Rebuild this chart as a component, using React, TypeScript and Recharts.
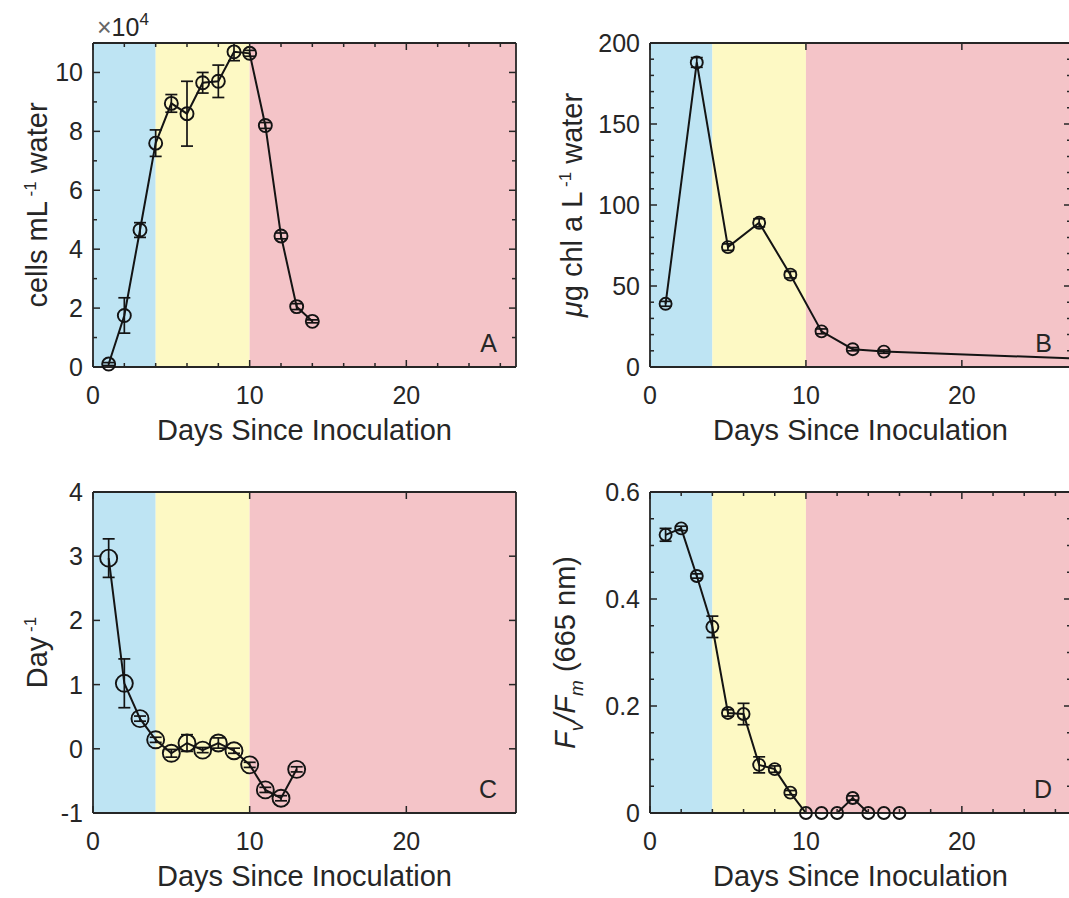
import React from "react";
import { ComposedChart, Line, XAxis, YAxis, ReferenceArea, ErrorBar } from "recharts";

const INK = "#262626";
const LINE = "#141414";
const FONT = "'Liberation Sans', Arial, Helvetica, sans-serif";

// fases del cultivo (días)
const PHASE_STARTS = [0, 4, 10];
const PHASE_ENDS = [4, 10, 27];
const PHASE_COLORS = ["#bee4f3", "#fdf9c4", "#f4c4c8"];

const X_MAJOR = [0, 10, 20];
const X_MINOR_EVEN = [2, 4, 6, 8, 12, 14, 16, 18, 22, 24, 26];

// A: células (x10^4 mL-1)
const DAYS_A = [1, 2, 3, 4, 5, 6, 7, 8, 9, 10, 11, 12, 13, 14];
const CELLS_A = [0.1, 1.75, 4.65, 7.6, 8.95, 8.6, 9.65, 9.7, 10.7, 10.65, 8.2, 4.45, 2.05, 1.55];
const CELLS_ERR_A = [0.05, 0.6, 0.25, 0.45, 0.3, 1.1, 0.35, 0.55, 0.3, 0.1, 0.1, 0.1, 0.1, 0.05];
const A_TICKS = [0, 2, 4, 6, 8, 10];
const A_MINOR = [1, 3, 5, 7, 9, 11];

// B: clorofila
const DAYS_B = [1, 3, 5, 7, 9, 11, 13, 15, 28];
const CHL_B = [39, 188, 74, 89, 57, 22, 11, 9.5, 5];
const CHL_ERR_B = [1.5, 3, 2, 2.5, 2, 1.5, 1, 1, 0];
const B_TICKS = [0, 50, 100, 150, 200];
const B_MINOR = [10, 20, 30, 40, 60, 70, 80, 90, 110, 120, 130, 140, 160, 170, 180, 190];

// C: tasa de crecimiento (día-1)
const DAYS_C = [1, 2, 3, 4, 5, 6, 7, 8, 9, 10, 11, 12, 13];
const RATE_C = [2.97, 1.02, 0.47, 0.14, -0.07, 0.09, -0.02, 0.09, -0.03, -0.25, -0.64, -0.77, -0.32];
const RATE_ERR_C = [0.3, 0.38, 0.04, 0.04, 0.06, 0.13, 0.04, 0.08, 0.04, 0.04, 0.04, 0.04, 0.04];
const C_TICKS = [-1, 0, 1, 2, 3, 4];

// D: Fv/Fm
const DAYS_D = [1, 2, 3, 4, 5, 6, 7, 8, 9, 10, 11, 12, 13, 14, 15, 16];
const FVFM_D = [0.52, 0.532, 0.443, 0.348, 0.187, 0.185, 0.09, 0.082, 0.038, 0, 0, 0, 0.028, 0, 0, 0];
const FVFM_ERR_D = [0.012, 0.004, 0.004, 0.02, 0.006, 0.02, 0.015, 0.006, 0.004, 0, 0, 0, 0.004, 0, 0, 0];
const D_TICKS = [0, 0.2, 0.4, 0.6];
const D_MINOR = [0.05, 0.1, 0.15, 0.25, 0.3, 0.35, 0.45, 0.5, 0.55];

const TICK_FONT = 25;
const LABEL_FONT = 29;
const SUP = 17;

const toRows = (days: number[], vals: number[], errs: number[]) =>
    days.map((d, i) => ({ day: d, value: vals[i], err: errs[i] }));

const makeXTick = (showLabel: boolean, side: "bottom" | "top") => (props: any) => {
    const { x, y, payload } = props;
    const v = payload.value;
    const major = X_MAJOR.includes(v);
    const len = major ? 7 : 4;
    const dir = side === "bottom" ? -1 : 1;
    return (
        <g>
            <line x1={x} x2={x} y1={y} y2={y + dir * len} stroke={INK} strokeWidth={1.5} />
            {showLabel && major ? (
                <text x={x} y={y + 37} textAnchor="middle" fontSize={TICK_FONT} fontFamily={FONT} fill={INK}>
                    {v}
                </text>
            ) : null}
        </g>
    );
};

const makeYTick = (majors: number[], showLabel: boolean, side: "left" | "right") => (props: any) => {
    const { x, y, payload } = props;
    const v = payload.value;
    const major = majors.includes(v);
    const len = major ? 7 : 4;
    const dir = side === "left" ? 1 : -1;
    return (
        <g>
            <line x1={x} x2={x + dir * len} y1={y} y2={y} stroke={INK} strokeWidth={1.5} />
            {showLabel && major ? (
                <text x={x - 10} y={y + 9} textAnchor="end" fontSize={TICK_FONT} fontFamily={FONT} fill={INK}>
                    {v}
                </text>
            ) : null}
        </g>
    );
};

const yLabelA = (
    <>
        cells mL<tspan dy={-11} fontSize={SUP}> -1</tspan>
        <tspan dy={11}> water</tspan>
    </>
);
const yLabelB = (
    <>
        <tspan fontStyle="italic">μ</tspan>g chl a L<tspan dy={-11} fontSize={SUP}> -1</tspan>
        <tspan dy={11}> water</tspan>
    </>
);
const yLabelC = (
    <>
        Day<tspan dy={-11} fontSize={SUP}> -1</tspan>
    </>
);
const yLabelD = (
    <>
        <tspan fontStyle="italic">F</tspan>
        <tspan dy={8} fontSize={19} fontStyle="italic">v</tspan>
        <tspan dy={-8} fontStyle="italic">/F</tspan>
        <tspan dy={8} fontSize={19} fontStyle="italic">m</tspan>
        <tspan dy={-8}> (665 nm)</tspan>
    </>
);

interface PanelProps {
    left: number;
    top: number;
    width: number;
    height: number;
    margin: { top: number; right: number; bottom: number; left: number };
    rows: { day: number; value: number; err: number }[];
    xMinor: number[];
    yDomain: [number, number];
    yTicks: number[];
    yMinor: number[];
    radius: number;
    yLabel: React.ReactNode;
    yLabelDx: number;
    letter: string;
    exponent?: boolean;
}

function Panel({
    left, top, width, height, margin, rows, xMinor, yDomain, yTicks, yMinor,
    radius, yLabel, yLabelDx, letter, exponent = false,
}: Readonly<PanelProps>) {
    const xTicks = [...X_MAJOR, ...xMinor].sort((a, b) => a - b);
    const yAll = [...yTicks, ...yMinor].sort((a, b) => a - b);
    const axisLine = { stroke: INK, strokeWidth: 1.8 };

    const xLabel = (p: any) => {
        const vb = p.viewBox;
        return (
            <text x={vb.x + vb.width / 2} y={vb.y + 73} textAnchor="middle" fontSize={LABEL_FONT} fontFamily={FONT} fill={INK}>
                Days Since Inoculation
            </text>
        );
    };
    const yLabelFn = (p: any) => {
        const vb = p.viewBox;
        const cx = vb.x + vb.width + yLabelDx;
        const cy = vb.y + vb.height / 2;
        return (
            <text transform={`translate(${cx},${cy}) rotate(-90)`} textAnchor="middle" fontSize={LABEL_FONT} fontFamily={FONT} fill={INK}>
                {yLabel}
            </text>
        );
    };
    const letterFn = (p: any) => {
        const vb = p.viewBox;
        return (
            <text x={vb.x - 19} y={vb.y + vb.height - 15} textAnchor="end" fontSize={TICK_FONT} fontFamily={FONT} fill={INK}>
                {letter}
            </text>
        );
    };
    const expFn = (p: any) => {
        const vb = p.viewBox;
        return (
            <text x={vb.x + 4} y={vb.y + vb.height - 7} fontSize={TICK_FONT} fontFamily={FONT} fill={INK}>
                <tspan fill="#666">×</tspan>10<tspan dy={-11} fontSize={SUP}>4</tspan>
            </text>
        );
    };

    return (
        <div style={{ position: "absolute", left, top }}>
            <ComposedChart width={width} height={height} data={rows} margin={margin}>
                {PHASE_STARTS.map((s, i) => (
                    <ReferenceArea
                        key={i}
                        xAxisId="x"
                        yAxisId="y"
                        x1={s}
                        x2={PHASE_ENDS[i]}
                        fill={PHASE_COLORS[i]}
                        fillOpacity={1}
                        stroke="none"
                    />
                ))}
                <XAxis
                    xAxisId="x"
                    dataKey="day"
                    type="number"
                    domain={[0, 27]}
                    allowDataOverflow
                    ticks={xTicks}
                    interval={0}
                    height={1}
                    tickSize={0}
                    tickMargin={0}
                    tickLine={false}
                    tick={makeXTick(true, "bottom")}
                    axisLine={axisLine}
                    label={{ content: xLabel }}
                />
                <XAxis
                    xAxisId="xt"
                    orientation="top"
                    dataKey="day"
                    type="number"
                    domain={[0, 27]}
                    allowDataOverflow
                    ticks={xTicks}
                    interval={0}
                    height={1}
                    tickSize={0}
                    tickMargin={0}
                    tickLine={false}
                    tick={makeXTick(false, "top")}
                    axisLine={axisLine}
                    label={exponent ? { content: expFn } : undefined}
                />
                <YAxis
                    yAxisId="y"
                    type="number"
                    domain={yDomain}
                    allowDataOverflow
                    ticks={yAll}
                    interval={0}
                    width={1}
                    tickSize={0}
                    tickMargin={0}
                    tickLine={false}
                    tick={makeYTick(yTicks, true, "left")}
                    axisLine={axisLine}
                    label={{ content: yLabelFn }}
                />
                <YAxis
                    yAxisId="yr"
                    orientation="right"
                    type="number"
                    domain={yDomain}
                    allowDataOverflow
                    ticks={yAll}
                    interval={0}
                    width={1}
                    tickSize={0}
                    tickMargin={0}
                    tickLine={false}
                    tick={makeYTick(yTicks, false, "right")}
                    axisLine={axisLine}
                    label={{ content: letterFn }}
                />
                <Line
                    xAxisId="x"
                    yAxisId="y"
                    type="linear"
                    dataKey="value"
                    stroke={LINE}
                    strokeWidth={2}
                    dot={{ r: radius, stroke: LINE, strokeWidth: 1.9, fill: "none", clipDot: false }}
                    activeDot={false}
                    isAnimationActive={false}
                >
                    <ErrorBar dataKey="err" direction="y" width={6} stroke={LINE} strokeWidth={1.7} />
                </Line>
            </ComposedChart>
        </div>
    );
}

export default function App() {
    return (
        <div
            style={{
                position: "absolute",
                left: 0,
                top: 0,
                width: 1069,
                height: 898,
                overflow: "hidden",
                background: "#fff",
            }}
        >
            <Panel
                left={0}
                top={0}
                width={534}
                height={449}
                margin={{ top: 42, left: 92, right: 17, bottom: 81 }}
                rows={toRows(DAYS_A, CELLS_A, CELLS_ERR_A)}
                xMinor={X_MINOR_EVEN}
                yDomain={[0, 11]}
                yTicks={A_TICKS}
                yMinor={A_MINOR}
                radius={6.5}
                yLabel={yLabelA}
                yLabelDx={-46}
                letter="A"
                exponent
            />
            <Panel
                left={534}
                top={0}
                width={555}
                height={449}
                margin={{ top: 42, left: 115, right: 17, bottom: 81 }}
                rows={toRows(DAYS_B, CHL_B, CHL_ERR_B)}
                xMinor={[]}
                yDomain={[0, 200]}
                yTicks={B_TICKS}
                yMinor={B_MINOR}
                radius={6}
                yLabel={yLabelB}
                yLabelDx={-68}
                letter="B"
            />
            <Panel
                left={0}
                top={449}
                width={534}
                height={449}
                margin={{ top: 42, left: 92, right: 17, bottom: 84 }}
                rows={toRows(DAYS_C, RATE_C, RATE_ERR_C)}
                xMinor={[]}
                yDomain={[-1, 4]}
                yTicks={C_TICKS}
                yMinor={[]}
                radius={8.5}
                yLabel={yLabelC}
                yLabelDx={-46}
                letter="C"
            />
            <Panel
                left={534}
                top={449}
                width={555}
                height={449}
                margin={{ top: 42, left: 115, right: 17, bottom: 84 }}
                rows={toRows(DAYS_D, FVFM_D, FVFM_ERR_D)}
                xMinor={X_MINOR_EVEN}
                yDomain={[0, 0.6]}
                yTicks={D_TICKS}
                yMinor={D_MINOR}
                radius={6}
                yLabel={yLabelD}
                yLabelDx={-75}
                letter="D"
            />
        </div>
    );
}
